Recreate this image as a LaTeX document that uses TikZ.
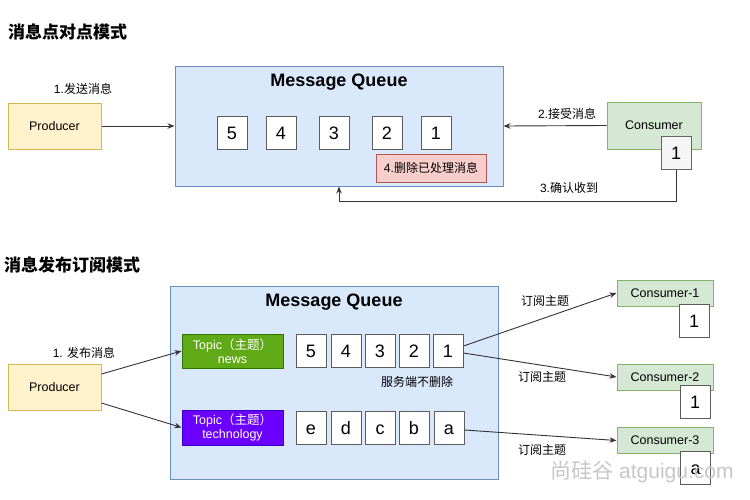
\documentclass[tikz,border=0pt]{standalone}
\usepackage{fontspec}
\setmainfont{Liberation Sans}
\newfontfamily\cjk{Noto Sans CJK SC}
\usetikzlibrary{arrows.meta}
\definecolor{prodfill}{HTML}{FFF2CC}
\definecolor{prodline}{HTML}{D6B656}
\definecolor{mqfill}{HTML}{DAE8FC}
\definecolor{mqline}{HTML}{6C8EBF}
\definecolor{consfill}{HTML}{D5E8D4}
\definecolor{consline}{HTML}{82B366}
\definecolor{redfill}{HTML}{F8CECC}
\definecolor{redline}{HTML}{B85450}
\definecolor{greenfill}{HTML}{60A917}
\definecolor{greenline}{HTML}{2D7600}
\definecolor{purpfill}{HTML}{6A00FF}
\definecolor{purpline}{HTML}{3700CC}
\definecolor{greyfill}{HTML}{F5F5F5}
\definecolor{darkline}{HTML}{333333}
\tikzset{
  basebox/.style={draw, line width=1pt, inner sep=0pt, align=center},
  prod/.style={basebox, fill=prodfill, draw=prodline, minimum width=93pt, minimum height=46pt, font=\fontsize{12.5}{14}\selectfont},
  mq/.style={basebox, fill=mqfill, draw=mqline},
  mqtitle/.style={font=\fontsize{18}{20}\selectfont\bfseries},
  cell/.style={basebox, fill=white, draw=darkline!80, minimum width=30pt, minimum height=33pt, text height=13pt, text depth=0pt, font=\fontsize{18}{20}\selectfont},
  cons/.style={basebox, fill=consfill, draw=consline, font=\fontsize{12.5}{14}\selectfont},
  topicbox/.style={basebox, text=white, minimum width=101pt, minimum height=34pt, font=\fontsize{12.5}{13.5}\selectfont},
  lbl/.style={inner sep=0pt, font=\fontsize{12}{14}\selectfont},
  ttl/.style={inner sep=0pt, font=\fontsize{17}{19}\selectfont\bfseries\cjk},
  arr/.style={draw=darkline, line width=0.9pt, -{Stealth[length=7pt,width=5.5pt]}}
}
\begin{document}
\begin{tikzpicture}[x=1pt,y=-1pt]
\useasboundingbox (0,0) rectangle (750,499);
% ---------- top section ----------
\node[ttl, anchor=west] (title1) at (8,32) {消息点对点模式};
\node[prod] (p1) at (54.5,126) {Producer};
\node[mq, minimum width=328pt, minimum height=120pt] (mq1) at (339,126) {};
\node[mqtitle] (mqt1) at (339,82) {Message Queue};
\node[cell] (a5) at (232,132.5) {5};
\node[cell] (a4) at (281,132.5) {4};
\node[cell] (a3) at (334,132.5) {3};
\node[cell] (a2) at (387,132.5) {2};
\node[cell] (a1) at (436,132.5) {1};
\node[basebox, fill=redfill, draw=redline, minimum width=110pt, minimum height=28pt, font=\fontsize{12}{14}\selectfont] (del) at (431,168) {4.{\cjk 删除已处理消息}};
\node[cons, minimum width=94pt, minimum height=47pt] (c1) at (654,125.5) {Consumer};
\node[cell, fill=greyfill, draw=black!60] (c1b) at (676,153) {1};
\draw[arr] (p1.east) -- (mq1.west);
\draw[arr] (c1.west) -- (mq1.east);
\draw[arr] (c1b.south) -- ++(0,31) -| (mq1.south);
\node[lbl] (l1) at (83,89) {1.{\cjk 发送消息}};
\node[lbl] (l2) at (567,114) {2.{\cjk 接受消息}};
\node[lbl] (l3) at (569,188) {3.{\cjk 确认收到}};
% ---------- bottom section ----------
\node[ttl, anchor=west] (title2) at (4,265) {消息发布订阅模式};
\node[mq, minimum width=328pt, minimum height=193pt] (mq2) at (334,382.5) {};
\node[mqtitle] (mqt2) at (334,302) {Message Queue};
\node[prod] (p2) at (54.5,387) {Producer};
\node[topicbox, fill=greenfill, draw=greenline] (news) at (232.5,351) {Topic{\cjk （主题）}\\news};
\node[topicbox, fill=purpfill, draw=purpline, minimum height=35pt] (tech) at (232.5,427.5) {Topic{\cjk （主题）}\\technology};
\node[cell] (b5) at (311,350.5) {5};
\node[cell] (b4) at (346,350.5) {4};
\node[cell] (b3) at (380,350.5) {3};
\node[cell] (b2) at (414,350.5) {2};
\node[cell] (b1) at (448,350.5) {1};
\node[cell] (be) at (311,428) {e};
\node[cell] (bd) at (346,428) {d};
\node[cell] (bc) at (380,428) {c};
\node[cell] (bb) at (414,428) {b};
\node[cell] (ba) at (449,428) {a};
\node[lbl, font=\fontsize{12}{14}\selectfont\cjk] (keep) at (417,382) {服务端不删除};
\node[cons, minimum width=96pt, minimum height=26pt] (k1) at (665,293) {Consumer-1};
\node[cell] (k1b) at (694,320.5) {1};
\node[cons, minimum width=96pt, minimum height=26pt] (k2) at (665,377) {Consumer-2};
\node[cell] (k2b) at (695,402) {1};
\node[cons, minimum width=96pt, minimum height=26pt] (k3) at (665,440.5) {Consumer-3};
\node[cell] (k3b) at (695.5,467.5) {a};
\draw[arr] ([yshift=13pt]p2.east) -- (news.west);
\draw[arr] ([yshift=-16pt]p2.east) -- (tech.west);
\draw[arr] ([yshift=4.5pt]b1.east) -- (k1.west);
\draw[arr] ([yshift=-2.5pt]b1.east) -- (k2.west);
\draw[arr] ([yshift=-2pt]ba.east) -- (k3.west);
\node[lbl] (pl) at (84,353) {1. {\cjk 发布消息}};
\node[lbl, font=\fontsize{12}{14}\selectfont\cjk] (s1) at (545,301) {订阅主题};
\node[lbl, font=\fontsize{12}{14}\selectfont\cjk] (s2) at (542,377) {订阅主题};
\node[lbl, font=\fontsize{12}{14}\selectfont\cjk] (s3) at (542,450) {订阅主题};
\node[inner sep=0pt, text=black!22, font=\fontsize{21}{23}\selectfont] (wm) at (642,472) {{\cjk 尚硅谷} atguigu.com};
\end{tikzpicture}
\end{document}
